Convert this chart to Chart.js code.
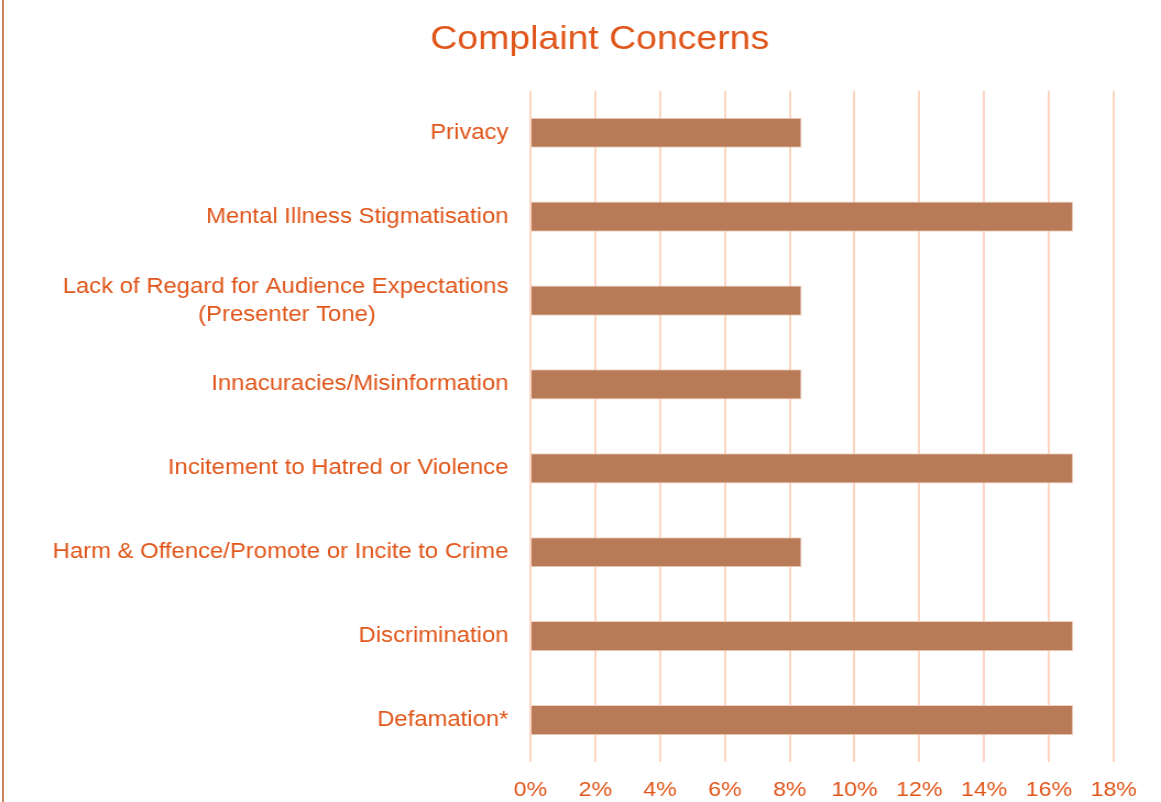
<!DOCTYPE html>
<html>
<head>
<meta charset="utf-8">
<script src="https://cdn.jsdelivr.net/npm/chart.js@4"></script>
<style>
  html, body { margin: 0; padding: 0; background: #fff; overflow: hidden; }
  #page { position: relative; width: 1161px; height: 802px; }
  #edge { position: absolute; left: 2px; top: 0; width: 2px; height: 802px; background: #c8855e; }
  /* the reference text is a bit wide, so the chart is drawn narrower and stretched */
  #wrap { position: absolute; left: 0; top: 0; width: 1055px; height: 802px; transform: scaleX(1.1005); transform-origin: 0 0; }
</style>
</head>
<body>
<div id="page">
  <div id="edge"></div>
  <div id="wrap"><canvas id="concernChart" width="1055" height="802"></canvas></div>
</div>
<script>
const chartTitle = 'Complaint Concerns'
const concerns = [
    ['Privacy'],
    ['Mental Illness Stigmatisation'],
    ['Lack of Regard for Audience Expectations', '(Presenter Tone)'],
    ['Innacuracies/Misinformation'],
    ['Incitement to Hatred or Violence'],
    ['Harm & Offence/Promote or Incite to Crime'],
    ['Discrimination'],
    ['Defamation*']
]
const shares = [8.37, 16.75, 8.37, 8.37, 16.75, 8.37, 16.75, 16.75]
const xMin = 0, xMax = 18, xStep = 2

const textColor = '#e0561a'
const fontFamily = 'Liberation Sans, Arial, sans-serif'
const labelFont = { family: fontFamily, size: 21.7, lineHeight: 1.29 }

//center the shorter lines of a multi-line label under the longest one
const measureCtx = document.createElement('canvas').getContext('2d')
measureCtx.font = `${labelFont.size}px ${labelFont.family}`
function centerLines(lines) {
    if (lines.length < 2) return lines[0]
    const widths = lines.map(l => measureCtx.measureText(l).width)
    const maxW = Math.max(...widths)
    const spaceW = measureCtx.measureText(' ').width
    return lines.map((l, i) => l + ' '.repeat(Math.round((maxW - widths[i]) / 2 / spaceW)))
}

//the reference title sits a little right of the canvas centre
const shiftTitle = {
    id: 'shiftTitle',
    afterLayout(chart) {
        if (chart.titleBlock) chart.titleBlock.left += 78
    }
}

const ctx = document.getElementById('concernChart').getContext('2d')
new Chart(ctx, {
    type: 'bar',
    data: {
        labels: concerns.map(centerLines),
        datasets: [{
            data: shares,
            backgroundColor: '#b97a57',
            borderColor: '#f1d3c1',
            borderWidth: 1,
            barPercentage: 0.36,
            categoryPercentage: 1
        }]
    },
    options: {
        indexAxis: 'y',
        responsive: false,
        animation: false,
        devicePixelRatio: 1,
        layout: { padding: { left: 0, right: 43, top: 0, bottom: 0 } },
        plugins: {
            legend: { display: false },
            tooltip: { enabled: false },
            title: {
                display: true,
                text: chartTitle,
                color: textColor,
                font: { family: fontFamily, size: 34, weight: 'normal', lineHeight: 1.2 },
                padding: { top: 19, bottom: 31 }
            }
        },
        scales: {
            x: {
                min: xMin,
                max: xMax,
                border: { display: false },
                grid: { color: '#fdd5c3', lineWidth: 2, drawTicks: false },
                ticks: {
                    stepSize: xStep,
                    color: textColor,
                    font: { family: fontFamily, size: 21 },
                    padding: 16,
                    maxRotation: 0,
                    callback: v => v + '%'
                },
                afterFit: scale => { scale.height = 40 }
            },
            y: {
                border: { display: false },
                grid: { display: false, drawTicks: false },
                ticks: {
                    color: textColor,
                    font: labelFont,
                    padding: 20,
                    autoSkip: false
                },
                afterFit: scale => { scale.width = 482 }
            }
        }
    },
    plugins: [shiftTitle]
})
</script>
</body>
</html>
